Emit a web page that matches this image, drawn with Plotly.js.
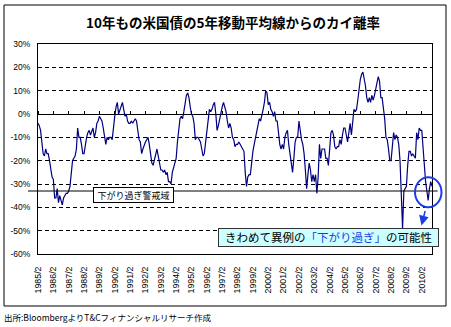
<!DOCTYPE html>
<html><head><meta charset="utf-8">
<script src="https://cdn.plot.ly/plotly-3.0.1.min.js"></script>
<style>html,body{margin:0;padding:0;background:#fff}#chart{width:451px;height:327px}</style>
</head><body><div id="chart"></div>
<script>
// Monthly deviation (%) of US 10y yield from its 5-year moving average, Feb of each year through Jan of next
const y1985 = [-4,-5,-7,-11,-17,-18,-15,-17,-17,-20,-24,-27];
const y1986 = [-28,-36,-36,-32,-38,-35,-37,-39,-36,-35,-34,-34];
const y1987 = [-33,-31,-25,-20,-19,-18,-15,-6,-10,-10,-13,-17];
const y1988 = [-17,-13,-10,-8,-7,-9,-7,-6,-10,-8,-4,-3];
const y1989 = [-1,-2,-3,-6,-9,-13,-10,-11,-10,-10,-11,-5];
const y1990 = [-1,3,5,0,2,4,5,2,-1,0,-3,-4];
const y1991 = [-4,-3,-4,-3,-2,-3,-7,-11,-12,-17,-15,-13];
const y1992 = [-12,-11,-10,-13,-18,-21,-22,-20,-18,-15,-18,-22];
const y1993 = [-24,-24,-25,-24,-26,-25,-29,-29,-30,-25,-23,-21];
const y1994 = [-19,-12,-6,-2,-1,-2,1,5,8,9,7,3];
const y1995 = [0,-1,-4,-11,-10,-10,-11,-12,-15,-18,-17,-12];
const y1996 = [-7,-1,2,1,2,4,5,0,-7,-5,-2,0];
const y1997 = [3,5,3,1,-3,-6,-4,-6,-10,-11,-14,-13];
const y1998 = [-13,-12,-13,-14,-15,-16,-25,-31,-27,-26,-26,-20];
const y1999 = [-16,-13,-10,-7,-4,-2,-3,-1,2,5,10,9];
const y2000 = [4,5,2,1,-1,1,-3,-3,-9,-13,-15,-13];
const y2001 = [-15,-10,-8,-7,-13,-17,-20,-25,-19,-12,-10,-10];
const y2002 = [-3,-8,-11,-13,-17,-24,-32,-26,-21,-24,-29,-26];
const y2003 = [-29,-26,-34,-27,-13,-19,-15,-15,-15,-19,-19,-22];
const y2004 = [-14,-8,-7,-9,-14,-15,-14,-14,-11,-13,-9,-6];
const y2005 = [-6,-10,-12,-8,-4,-9,-2,2,1,2,6,12];
const y2006 = [15,17,18,15,12,7,5,7,5,8,6,8];
const y2007 = [11,13,16,14,7,7,3,-2,-10,-11,-15,-20];
const y2008 = [-20,-14,-8,-11,-9,-10,-13,-20,-35,-49,-33,-32];
const y2009 = [-31,-22,-16,-16,-18,-17,-18,-19,-8,-11,-6,-7];
const y2010 = [-7,-14,-24,-29,-33,-37,-32,-29,-31];

const tickLabels = ['1985/2','1986/2','1987/2','1988/2','1989/2','1990/2','1991/2','1992/2','1993/2','1994/2',
  '1995/2','1996/2','1997/2','1998/2','1999/2','2000/2','2001/2','2002/2','2003/2','2004/2',
  '2005/2','2006/2','2007/2','2008/2','2009/2','2010/2'];
const yTickVals = [-60,-50,-40,-30,-20,-10,0,10,20,30];
const yTickText = ['-60%','-50%','-40%','-30%','-20%','-10%','0%','10%','20%','30%'];
const threshold = -33;

const values = [].concat(y1985,y1986,y1987,y1988,y1989,y1990,y1991,y1992,y1993,y1994,y1995,y1996,
  y1997,y1998,y1999,y2000,y2001,y2002,y2003,y2004,y2005,y2006,y2007,y2008,y2009,y2010);
const monthIndex = values.map((_, i) => i);
const tickPos = tickLabels.map((_, i) => i * 12);
const xMax = values.length - 1;

const L = 38, R = 432, T = 44, B = 254;
const px = v => (v - L) / (R - L);
const py = v => (B - v) / (B - T);
const JP = '"Noto Sans CJK JP", sans-serif';
const BLUE = '#1e3ce6';

const traces = [
  {x: monthIndex, y: values, type: 'scatter', mode: 'lines', line: {color: '#000080', width: 1.2}, hoverinfo: 'skip'},
  {x: [0], y: [0], xaxis: 'x2', type: 'scatter', mode: 'markers', marker: {opacity: 0}, hoverinfo: 'skip'}
];

const layout = {
  width: 451, height: 327,
  margin: {l: 38, r: 19, t: 44, b: 73, pad: 0},
  paper_bgcolor: '#fff', plot_bgcolor: '#fff',
  showlegend: false,
  title: {text: '10年もの米国債の5年移動平均線からのカイ離率', font: {family: JP, size: 13.5, color: '#000', weight: 'bold'},
    x: 233/451, xref: 'container', xanchor: 'center', y: 1 - 23/327, yref: 'container', yanchor: 'middle'},
  xaxis: {range: [0, xMax], tickvals: tickPos, ticktext: tickLabels, tickangle: -90, ticks: '',
    showgrid: false, zeroline: false, showline: true, mirror: true, linecolor: '#000', linewidth: 1,
    tickfont: {family: 'Liberation Sans, Arial, sans-serif', size: 8.8, color: '#000'}, ticklabelstandoff: 8},
  xaxis2: {overlaying: 'x', anchor: 'free', position: 60/90, side: 'top', range: [0, xMax], tickvals: tickPos,
    ticks: 'outside', ticklen: 3, tickcolor: '#000', tickwidth: 1, showticklabels: false, showgrid: false,
    zeroline: false, showline: false},
  yaxis: {range: [-60, 30], tickvals: yTickVals, ticktext: yTickText, ticks: '',
    showgrid: true, gridcolor: '#000', gridwidth: 1, griddash: '4px,3px',
    zeroline: true, zerolinecolor: '#000', zerolinewidth: 1,
    showline: true, mirror: true, linecolor: '#000', linewidth: 1,
    tickfont: {family: 'Liberation Sans, Arial, sans-serif', size: 8.5, color: '#000'}, ticklabelstandoff: 5},
  shapes: [
    {type: 'rect', xref: 'paper', yref: 'paper', x0: px(4), x1: px(446), y0: py(306), y1: py(5),
      line: {color: '#000', width: 1}, fillcolor: 'rgba(0,0,0,0)', layer: 'below'},
    {type: 'line', xref: 'paper', yref: 'y', x0: px(28), x1: px(437.7), y0: threshold, y1: threshold,
      line: {color: '#000', width: 1}},
    {type: 'circle', xref: 'paper', yref: 'paper', x0: px(415), x1: px(441.5), y0: py(207.3), y1: py(177.3),
      line: {color: BLUE, width: 2}}
  ],
  annotations: [
    {xref: 'paper', yref: 'paper', x: px(133.8), y: py(194.7), xanchor: 'center', yanchor: 'middle',
      text: '下がり過ぎ警戒域', showarrow: false, font: {family: JP, size: 9, color: '#000'},
      bgcolor: '#fff', bordercolor: '#000', borderwidth: 1, borderpad: 1.5, width: 76, height: 11},
    {xref: 'paper', yref: 'paper', x: px(328.3), y: py(237.5), xanchor: 'center', yanchor: 'middle',
      text: 'きわめて異例の<span style="color:' + BLUE + '">「下がり過ぎ」</span>の可能性', showarrow: false,
      font: {family: JP, size: 11.5, color: '#000'},
      bgcolor: '#ccffff', bordercolor: '#333', borderwidth: 1, borderpad: 1, width: 217, height: 14.5},
    {xref: 'paper', yref: 'paper', x: px(421.5), y: py(225.5), ax: 4, ay: -16, text: '', showarrow: true,
      arrowhead: 2, arrowsize: 1.3, arrowwidth: 1.5, arrowcolor: BLUE},
    {xref: 'paper', yref: 'paper', x: px(2), y: py(317), xanchor: 'left', yanchor: 'middle',
      text: '出所:BloombergよりT&Cフィナンシャルリサーチ作成', showarrow: false,
      font: {family: JP, size: 8.5, color: '#000'}}
  ]
};

Plotly.newPlot('chart', traces, layout, {staticPlot: true, displayModeBar: false});
</script></body></html>
